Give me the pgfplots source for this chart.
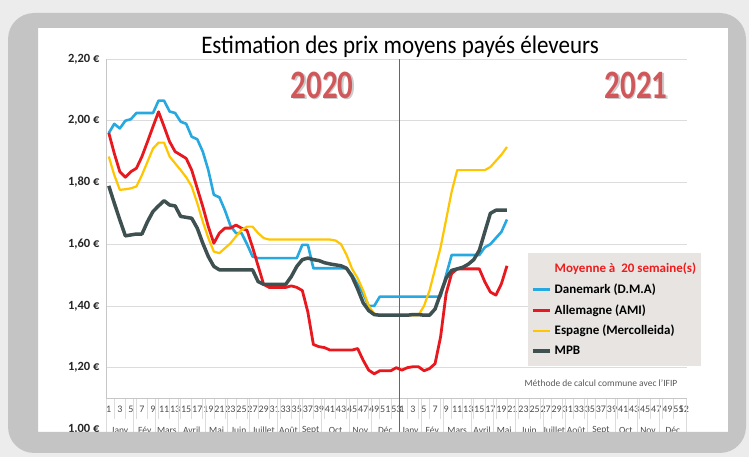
\documentclass[border=0pt]{standalone}
\usepackage{fontspec}
\setmainfont{Carlito}
\usepackage{graphicx}
\usepackage{pgfplots}
\usepackage{pgfplotstable}
\pgfplotsset{compat=1.18}
\definecolor{cdk}{RGB}{38,168,224}
\definecolor{cde}{RGB}{232,24,30}
\definecolor{ces}{RGB}{255,198,0}
\definecolor{cmpb}{RGB}{62,80,80}
\definecolor{legbg}{RGB}{231,228,226}
\definecolor{legred}{RGB}{240,28,28}
\definecolor{yr}{RGB}{208,88,90}
\definecolor{framec}{RGB}{196,196,196}
\definecolor{bgc}{RGB}{236,236,236}
\definecolor{gridc}{RGB}{220,220,220}

\pgfplotstableread{
k dk de es mpb
1 1.960 1.961 1.884 1.789
2 1.990 1.894 1.824 1.733
3 1.975 1.835 1.776 1.679
4 2.000 1.817 1.778 1.627
5 2.005 1.835 1.781 1.630
6 2.025 1.846 1.787 1.633
7 2.025 1.884 1.824 1.633
8 2.025 1.932 1.867 1.673
9 2.025 1.981 1.910 1.706
10 2.065 2.029 1.929 1.724
11 2.065 1.981 1.929 1.741
12 2.030 1.932 1.884 1.727
13 2.025 1.900 1.862 1.724
14 1.997 1.889 1.840 1.690
15 1.990 1.878 1.817 1.687
16 1.948 1.840 1.787 1.684
17 1.940 1.781 1.733 1.652
18 1.900 1.722 1.673 1.603
19 1.840 1.657 1.620 1.560
20 1.760 1.603 1.576 1.528
21 1.752 1.636 1.571 1.517
22 1.710 1.652 1.587 1.517
23 1.660 1.652 1.603 1.517
24 1.636 1.662 1.625 1.517
25 1.636 1.652 1.646 1.517
26 1.600 1.645 1.657 1.517
27 1.560 1.590 1.657 1.517
28 1.555 1.530 1.636 1.479
29 1.555 1.470 1.620 1.470
30 1.555 1.460 1.615 1.470
31 1.555 1.460 1.615 1.470
32 1.555 1.460 1.615 1.470
33 1.555 1.460 1.615 1.470
34 1.555 1.465 1.615 1.495
35 1.555 1.460 1.615 1.528
36 1.598 1.450 1.615 1.550
37 1.598 1.380 1.615 1.555
38 1.522 1.275 1.615 1.550
39 1.522 1.268 1.615 1.547
40 1.522 1.265 1.615 1.540
41 1.522 1.257 1.615 1.536
42 1.522 1.257 1.612 1.533
43 1.522 1.257 1.600 1.530
44 1.522 1.257 1.565 1.522
45 1.500 1.257 1.520 1.495
46 1.470 1.262 1.490 1.455
47 1.440 1.224 1.450 1.410
48 1.400 1.192 1.400 1.385
49 1.400 1.180 1.375 1.372
50 1.430 1.190 1.370 1.370
51 1.430 1.190 1.370 1.370
52 1.430 1.190 1.370 1.370
53 1.430 1.200 1.370 1.370
54 1.430 1.192 1.370 1.370
55 1.430 1.200 1.370 1.370
56 1.430 1.203 1.370 1.372
57 1.430 1.203 1.370 1.372
58 1.430 1.190 1.400 1.370
59 1.430 1.197 1.450 1.370
60 1.430 1.213 1.520 1.390
61 1.430 1.300 1.590 1.440
62 1.500 1.440 1.680 1.490
63 1.565 1.505 1.770 1.515
64 1.565 1.520 1.840 1.520
65 1.565 1.520 1.840 1.525
66 1.565 1.520 1.840 1.535
67 1.565 1.520 1.840 1.550
68 1.565 1.520 1.840 1.580
69 1.590 1.478 1.840 1.640
70 1.600 1.445 1.850 1.700
71 1.620 1.435 1.870 1.710
72 1.640 1.472 1.890 1.710
73 1.680 1.530 1.915 1.710
}\prix

\begin{document}
\begin{tikzpicture}[x=1pt,y=1pt]
\fill[white] (0,0) rectangle (749,457);
\begin{axis}[
  at={(106pt,27.6pt)}, anchor=south west,
  scale only axis, width=580.7pt, height=370.4pt,
  xmin=0.5, xmax=105.5, ymin=1, ymax=2.2,
  clip=false,
  axis lines*=left,
  x axis line style={draw=none},
  y axis line style={draw=gray!45, line width=0.6pt},
  major tick length=0pt,
  ytick={1.2,1.4,1.6,1.8,2.0,2.2},
  yticklabels={{1,20 €},{1,40 €},{1,60 €},{1,80 €},{2,00 €},{2,20 €}},
  extra y ticks={1.0}, extra y tick labels={1{,}00 €}, extra y tick style={grid=none},
  ymajorgrids, grid style={draw=gridc, line width=0.7pt},
  yticklabel style={font=\bfseries\fontsize{12.5}{14}\selectfont, text=black!85, xshift=-3pt},
  xtick={1,3,5,7,9,11,13,15,17,19,21,23,25,27,29,31,33,35,37,39,41,43,45,47,49,51,53,54,56,58,60,62,64,66,68,70,72,74,76,78,80,82,84,86,88,90,92,94,96,98,100,102,104,105},
  xticklabels={1,3,5,7,9,11,13,15,17,19,21,23,25,27,29,31,33,35,37,39,41,43,45,47,49,51,53,1,3,5,7,9,11,13,15,17,19,21,23,25,27,29,31,33,35,37,39,41,43,45,47,49,51,52},
  xticklabel style={font=\fontsize{10}{12}\selectfont, text=black!70, yshift=27pt},
  legend style={at={(0.7267,0.476)}, anchor=north west, draw=none, fill=legbg,
    font=\bfseries\fontsize{13}{15}\selectfont, inner xsep=3pt, inner ysep=8pt,
    row sep=5.5pt, column sep=1pt},
  legend cell align=left,
  legend image code/.code={\draw[#1] (0pt,0pt) -- (17pt,0pt);},
]
\draw[gray!45, line width=0.6pt] (axis cs:0.5,1.10) -- (axis cs:105.5,1.10);
\pgfplotsinvokeforeach{2,4,...,52,55,57,...,103}{\draw[gridc, line width=0.6pt] (axis cs:#1,1.10) -- (axis cs:#1,1.035);}
\pgfplotsinvokeforeach{0.5,5.5,9.5,13.5,18.5,22.5,26.5,31.5,35.5,39.5,44.5,48.5,57.5,61.5,66.5,70.5,74.5,79.5,83.5,87.5,92.5,96.5,100.5,105.5}{\draw[gridc, line width=0.6pt] (axis cs:#1,1.10) -- (axis cs:#1,0.985);}
\draw[black!60, line width=0.8pt] (axis cs:53.5,0.985) -- (axis cs:53.5,2.2);
\addlegendimage{empty legend}
\addlegendentry{\textcolor{legred}{Moyenne à\ \ 20 semaine(s)}}
\addplot[cdk, line width=2.6pt, line join=round] table[x=k,y=dk]{\prix};
\addlegendentry{Danemark (D.M.A)}
\addplot[cde, line width=2.8pt, line join=round] table[x=k,y=de]{\prix};
\addlegendentry{Allemagne (AMI)}
\addplot[ces, line width=2.2pt, line join=round] table[x=k,y=es]{\prix};
\addlegendentry{Espagne (Mercolleida)}
\addplot[cmpb, line width=3.5pt, line join=round] table[x=k,y=mpb]{\prix};
\addlegendentry{MPB}
\begin{scope}[every node/.style={font=\fontsize{9.5}{11}\selectfont, text=black!70}]
\node at (axis cs:3,0.997) {Janv};
\node at (axis cs:7.5,0.997) {Fév};
\node at (axis cs:11.5,0.997) {Mars};
\node at (axis cs:16,0.997) {Avril};
\node at (axis cs:20.5,0.997) {Mai};
\node at (axis cs:24.5,0.997) {Juin};
\node at (axis cs:29,0.997) {Juillet};
\node at (axis cs:33.5,0.997) {Août};
\node at (axis cs:37.5,0.997) {Sept};
\node at (axis cs:42,0.997) {Oct};
\node at (axis cs:46.5,0.997) {Nov};
\node at (axis cs:51,0.997) {Déc};
\node at (axis cs:55.5,0.997) {Janv};
\node at (axis cs:59.5,0.997) {Fév};
\node at (axis cs:64,0.997) {Mars};
\node at (axis cs:68.5,0.997) {Avril};
\node at (axis cs:72.5,0.997) {Mai};
\node at (axis cs:77,0.997) {Juin};
\node at (axis cs:81.5,0.997) {Juillet};
\node at (axis cs:85.5,0.997) {Août};
\node at (axis cs:90,0.997) {Sept};
\node at (axis cs:94.5,0.997) {Oct};
\node at (axis cs:98.5,0.997) {Nov};
\node at (axis cs:103,0.997) {Déc};
\end{scope}
\end{axis}
% frame
\fill[bgc, even odd rule] (0,0) rectangle (749,457) [rounded corners=26pt] (8,4) rectangle (746,444);
\fill[framec, even odd rule] [rounded corners=26pt] (8,4) rectangle (746,444) [sharp corners] (38,25) rectangle (728,429);
% texts
\node[font=\fontsize{23}{26}\selectfont] at (400,410) {\scalebox{1}[1.1]{Estimation des prix moyens payés éleveurs}};
\node[font=\bfseries\fontsize{31}{34}\selectfont, text=gray!40] at (323.5,370.5) {\scalebox{1}[1.3]{2020}};
\node[font=\bfseries\fontsize{31}{34}\selectfont, text=yr] at (322,372) {\scalebox{1}[1.3]{2020}};
\node[font=\bfseries\fontsize{31}{34}\selectfont, text=gray!40] at (637.5,370.5) {\scalebox{1}[1.3]{2021}};
\node[font=\bfseries\fontsize{31}{34}\selectfont, text=yr] at (636,372) {\scalebox{1}[1.3]{2021}};
\node[anchor=west, font=\fontsize{9.5}{11}\selectfont, text=black!65] at (521,74) {Méthode de calcul commune avec l'IFIP};
\end{tikzpicture}
\end{document}
